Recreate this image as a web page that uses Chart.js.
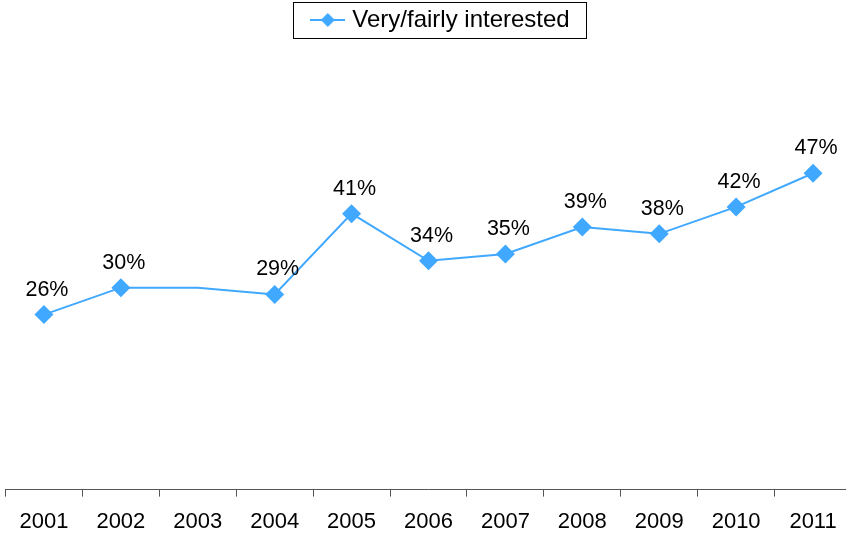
<!DOCTYPE html>
<html>
<head>
<meta charset="utf-8">
<script src="https://cdn.jsdelivr.net/npm/chart.js@4/dist/chart.umd.min.js"></script>
<style>
  html, body { margin: 0; padding: 0; background: #fff; overflow: hidden; }
  #wrap { position: relative; left: -4px; width: 865px; height: 549px; }
</style>
</head>
<body>
<div id="wrap"><canvas id="TrendChart"></canvas></div>
<script>
const years = ["2001", "2002", "2003", "2004", "2005", "2006", "2007", "2008", "2009", "2010", "2011"];
const interested = [26, 30, 30, 29, 41, 34, 35, 39, 38, 42, 47];
// 2003 has no marker and no label in the original
const hasMarker = [true, true, false, true, true, true, true, true, true, true, true];

const BLUE = "#40a8ff";
const FONT = "'Liberation Sans', Arial, sans-serif";

function legendIcon() {
    const c = document.createElement("canvas");
    c.width = 35;
    c.height = 16;
    const g = c.getContext("2d");
    g.strokeStyle = BLUE;
    g.lineWidth = 2;
    g.beginPath();
    g.moveTo(0, 8);
    g.lineTo(35, 8);
    g.stroke();
    g.fillStyle = BLUE;
    g.beginPath();
    g.moveTo(17.5, 1);
    g.lineTo(24.5, 8);
    g.lineTo(17.5, 15);
    g.lineTo(10.5, 8);
    g.closePath();
    g.fill();
    return c;
}

const valueLabels = {
    id: "valueLabels",
    afterDatasetsDraw(chart) {
        const ctx = chart.ctx;
        const meta = chart.getDatasetMeta(0);
        ctx.save();
        ctx.font = "21.5px " + FONT;
        ctx.fillStyle = "#000";
        ctx.textAlign = "center";
        ctx.textBaseline = "middle";
        meta.data.forEach((pt, i) => {
            if (!hasMarker[i]) return;
            ctx.fillText(interested[i] + "%", pt.x + 3, pt.y - 25);
        });
        ctx.restore();
    },
};

// legend sits a little right of centre in the original
const legendShift = {
    id: "legendShift",
    afterLayout(chart) {
        chart.legend.left += 14;
        chart.legend.right += 14;
    },
};

const legendBorder = {
    id: "legendBorder",
    afterDraw(chart) {
        const hb = chart.legend.legendHitBoxes[0];
        if (!hb) return;
        const ctx = chart.ctx;
        ctx.save();
        ctx.strokeStyle = "#000";
        ctx.lineWidth = 1;
        ctx.strokeRect(Math.round(hb.left) - 21.5, Math.round(hb.top + hb.height / 2) - 17.5,
            Math.round(hb.width) + 39, 36);
        ctx.restore();
    },
};

function TrendChart() {
    const ctx = document.getElementById("TrendChart");
    const icon = legendIcon();

    new Chart(ctx, {
        type: "line",
        data: {
            labels: years,
            datasets: [
                {
                    label: "Very/fairly interested",
                    data: interested,
                    borderColor: BLUE,
                    backgroundColor: BLUE,
                    borderWidth: 2,
                    fill: false,
                    tension: 0,
                    pointStyle: "rectRot",
                    pointRadius: hasMarker.map(m => (m ? 9.5 : 0)),
                    pointHoverRadius: hasMarker.map(m => (m ? 9.5 : 0)),
                    pointBorderWidth: 0,
                },
            ],
        },
        options: {
            responsive: true,
            maintainAspectRatio: false,
            animation: false,
            layout: {
                padding: { left: 0, right: 0, top: 0, bottom: 2 },
            },
            plugins: {
                tooltip: { enabled: false },
                legend: {
                    display: true,
                    position: "top",
                    labels: {
                        usePointStyle: true,
                        pointStyleWidth: 25,
                        color: "#000",
                        font: { family: FONT, size: 24 },
                        padding: 8,
                        generateLabels: function (chart) {
                            return [{
                                text: chart.data.datasets[0].label,
                                pointStyle: icon,
                                fillStyle: BLUE,
                                strokeStyle: BLUE,
                                lineWidth: 0,
                                datasetIndex: 0,
                            }];
                        },
                    },
                },
            },
            scales: {
                x: {
                    offset: true,
                    grid: {
                        offset: true,
                        drawOnChartArea: false,
                        drawTicks: true,
                        tickLength: 7,
                        color: "#555",
                    },
                    border: { display: true, color: "#555", width: 1 },
                    ticks: {
                        color: "#000",
                        padding: 12,
                        font: { family: FONT, size: 22 },
                        maxRotation: 0,
                        autoSkip: false,
                    },
                },
                y: {
                    display: false,
                    min: 0,
                    max: 66.5,
                },
            },
        },
        plugins: [valueLabels, legendShift, legendBorder],
    });
}

TrendChart();
</script>
</body>
</html>
